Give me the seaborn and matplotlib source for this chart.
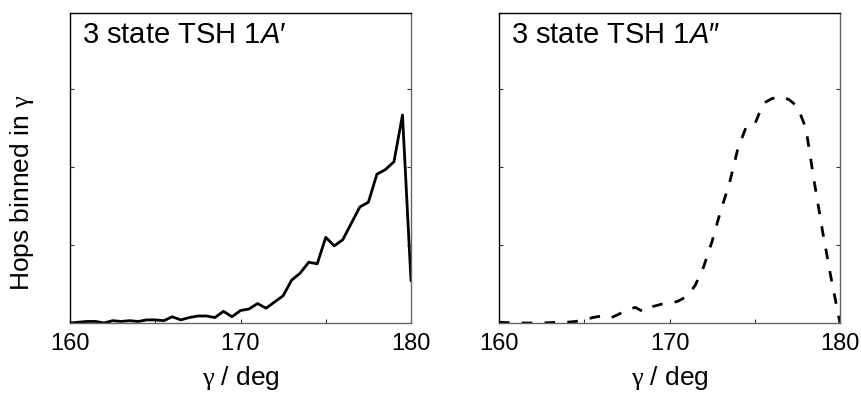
import numpy as np
import pandas as pd
import matplotlib
matplotlib.use("Agg")
import matplotlib.pyplot as plt
import seaborn as sns

# Bin centres of the out-of-plane angle gamma (deg)
gamma = np.arange(160.0, 180.01, 0.5)

# Hop counts per bin, 1A' state (solid curve)
hops_1ap = [0.00, 0.01, 0.02, 0.02, 0.00, 0.03, 0.02, 0.03, 0.02, 0.04,
            0.04, 0.03, 0.08, 0.04, 0.07, 0.09, 0.09, 0.07, 0.15, 0.08,
            0.16, 0.18, 0.25, 0.19, 0.27, 0.35, 0.55, 0.64, 0.78, 0.76,
            1.10, 0.99, 1.07, 1.28, 1.49, 1.55, 1.91, 1.97, 2.07, 2.67,
            0.54]

# Hop counts per bin, 1A'' state (dashed curve)
hops_1app = [0.01, 0.005, 0.00, 0.00, 0.00, 0.00, 0.005, 0.01, 0.01, 0.02,
             0.04, 0.07, 0.09, 0.06, 0.11, 0.17, 0.20, 0.14, 0.21, 0.24,
             0.25, 0.28, 0.34, 0.48, 0.72, 1.05, 1.44, 1.78, 2.23, 2.52,
             2.55, 2.82, 2.88, 2.91, 2.87, 2.78, 2.50, 1.80, 1.15, 0.55,
             0.00]

panel_titles = ["3 state TSH 1$\\mathit{A}$\u2032", "3 state TSH 1$\\mathit{A}$\u2033"]
xlabel = "$\\mathrm{\\gamma}$ / deg"
ylabel = "Hops binned in $\\mathrm{\\gamma}$"
xticks_major = [160, 170, 180]
xticks_minor = [165, 175]
yticks = [1, 2, 3]

sns.set_theme(style="ticks")
plt.rcParams["font.family"] = ["Liberation Sans", "DejaVu Sans"]
plt.rcParams["mathtext.fontset"] = "custom"
plt.rcParams["mathtext.rm"] = "Liberation Serif"
plt.rcParams["mathtext.it"] = "Liberation Sans:italic"
plt.rcParams["text.color"] = "black"
plt.rcParams["axes.labelcolor"] = "black"
plt.rcParams["xtick.color"] = "black"
plt.rcParams["ytick.color"] = "black"

df = pd.DataFrame({"gamma": np.concatenate([gamma, gamma]),
                   "hops": np.concatenate([hops_1ap, hops_1app]),
                   "state": ["1A'"] * len(gamma) + ["1A''"] * len(gamma)})

fig = plt.figure(figsize=(8.61, 3.94), dpi=100)
W, H = 861.0, 394.0
ax_l = fig.add_axes([70 / W, (H - 323) / H, 341 / W, 310 / H])
ax_r = fig.add_axes([499 / W, (H - 323) / H, 341 / W, 310 / H])

sns.lineplot(data=df[df.state == "1A'"], x="gamma", y="hops", ax=ax_l,
             color="black", linewidth=2.0, legend=False)
sns.lineplot(data=df[df.state == "1A''"], x="gamma", y="hops", ax=ax_r,
             color="black", linewidth=2.0, legend=False)
ax_r.lines[0].set_dashes((3.8, 4.4))
ax_r.lines[0].set_dash_capstyle("butt")

for ax, title in zip([ax_l, ax_r], panel_titles):
    ax.set_xlim(160, 180)
    ax.set_ylim(0, 3.98)
    ax.set_xticks(xticks_major)
    ax.set_xticks(xticks_minor, minor=True)
    ax.set_yticks(yticks)
    ax.set_yticklabels([])
    ax.tick_params(axis="both", which="both", direction="in", length=3,
                   width=0.8, color="#333333", labelcolor="black",
                   labelsize=17, pad=7,
                   top=False, right=True, left=True, bottom=True)
    ax.tick_params(axis="x", which="minor", length=3)
    for side in ["top", "left"]:
        ax.spines[side].set_color("black")
        ax.spines[side].set_linewidth(1.0)
    for side in ["bottom", "right"]:
        ax.spines[side].set_color("#666666")
        ax.spines[side].set_linewidth(1.0)
    ax.set_xlabel(xlabel, fontsize=19, labelpad=7, color="black")
    ax.set_ylabel("")
    ax.text(0.035, 0.975, title, transform=ax.transAxes, ha="left", va="top",
            fontsize=21, color="black")

ax_l.set_ylabel(ylabel, fontsize=19, color="black")
ax_l.yaxis.set_label_coords(-0.10, 0.42)

fig.savefig("out.png", dpi=100)
